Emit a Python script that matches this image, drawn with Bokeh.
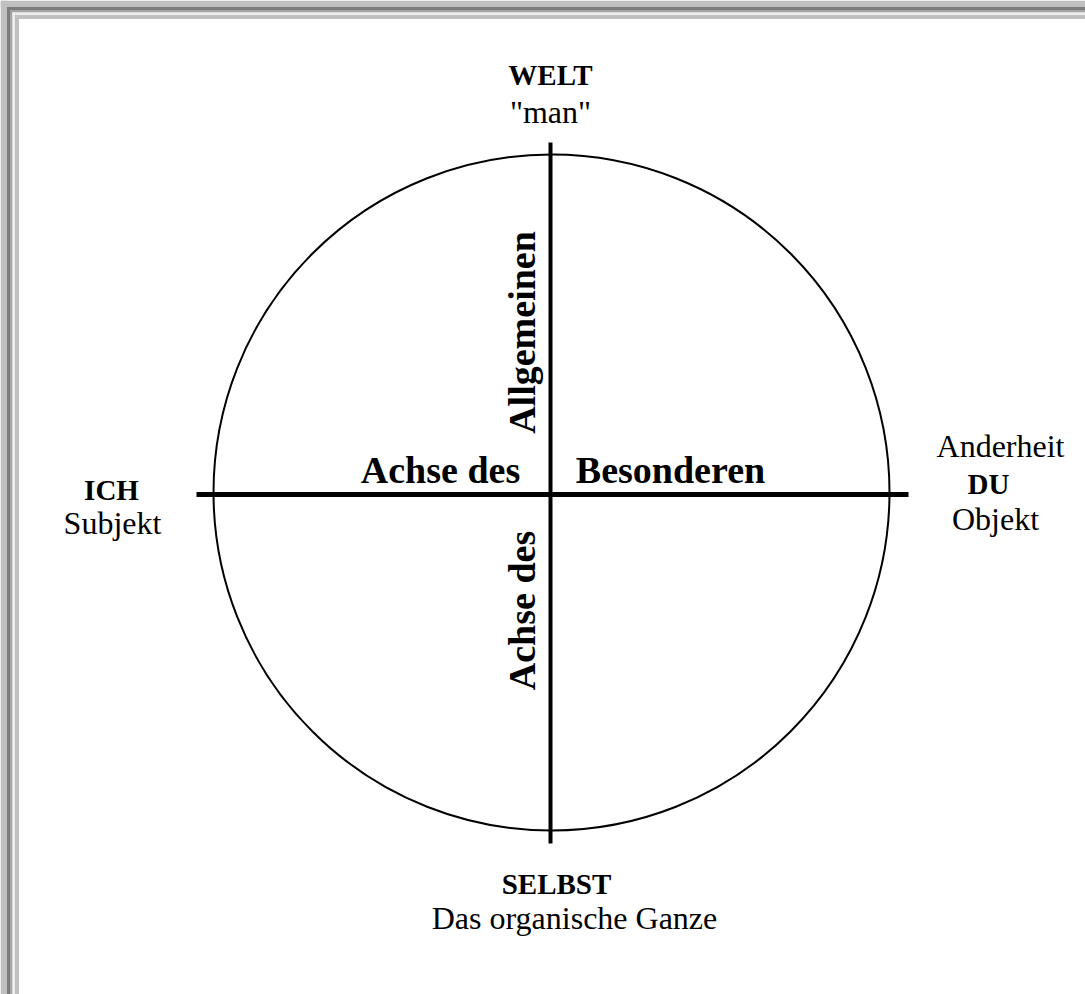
from bokeh.plotting import figure
from bokeh.models import Range1d, GlobalInlineStyleSheet
from bokeh.core.properties import value
from bokeh.embed import file_html
from bokeh.resources import INLINE

# ---- content ----
pole_titles = ["WELT", "ICH", "DU", "SELBST"]
pole_subs = ['"man"', "Subjekt", "Objekt", "Das organische Ganze"]
extra_label = ["Anderheit"]
axis_h_labels = ["Achse des", "Besonderen"]
axis_v_labels = ["Allgemeinen", "Achse des"]

# ---- layout (x = px from left, y = px from bottom) ----
W, H = 1085, 994
def Y(sy):
    return H - sy

p = figure(width=W, height=H, output_backend="svg", toolbar_location=None,
           x_range=Range1d(0, W), y_range=Range1d(0, H),
           min_border=0, background_fill_color="white", border_fill_color="white")
p.axis.visible = False
p.grid.visible = False
p.outline_line_color = None
p.stylesheets = [GlobalInlineStyleSheet(css="body{background:#ffffff;}")]

# window bevel (top and left only)
bands = [(0, 6.5, "#c0c0c0"), (6.5, 9.5, "#7c7c7c"), (9.5, 12, "#a4a4a4"),
         (12, 14.5, "#ececec"), (14.5, 18.5, "#c0c0c0")]
for s, e, c in bands:
    p.quad(left=[s], right=[W], top=[Y(s)], bottom=[Y(e)], fill_color=c, line_color=None)
    p.quad(left=[s], right=[e], top=[Y(s)], bottom=[0], fill_color=c, line_color=None)

# circle and axes
p.circle(x=[551], y=[Y(492)], radius=338, fill_color=None, line_color="black", line_width=2)
p.segment(x0=[196], y0=[Y(494)], x1=[908], y1=[Y(494)], line_color="black", line_width=5)
p.segment(x0=[550], y0=[Y(142)], x1=[550], y1=[Y(843)], line_color="black", line_width=4)

serif = value("Liberation Serif")

# pole titles (bold)
p.text(x=[550, 111, 988, 556], y=[Y(74), Y(489), Y(483), Y(883)], text=pole_titles,
       text_font=serif, text_font_style="bold", text_font_size="29px",
       text_align="center", text_baseline="alphabetic", text_color="black")
# pole subtitles
p.text(x=[550, 112, 995, 574], y=[Y(111), Y(522), Y(518), Y(917)], text=pole_subs,
       text_font=serif, text_font_size="32px",
       text_align="center", text_baseline="alphabetic", text_color="black")
p.text(x=[1000], y=[Y(445)], text=extra_label,
       text_font=serif, text_font_size="32px",
       text_align="center", text_baseline="alphabetic", text_color="black")

# axis labels
p.text(x=[440, 670], y=[Y(469), Y(469)], text=axis_h_labels,
       text_font=serif, text_font_style="bold", text_font_size="38px",
       text_align="center", text_baseline="alphabetic", text_color="black")
p.text(x=[521, 521], y=[Y(332), Y(610)], text=axis_v_labels, angle=1.5707963,
       text_font=serif, text_font_style="bold", text_font_size="38px",
       text_align="center", text_baseline="alphabetic", text_color="black")

open("out.html", "w").write(file_html(p, INLINE))
